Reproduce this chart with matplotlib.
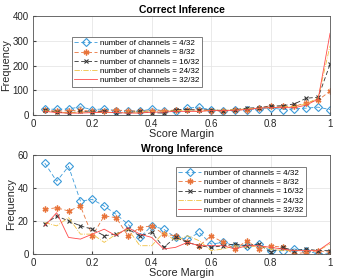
import numpy as np
import matplotlib
matplotlib.use('Agg')
import matplotlib.pyplot as plt

plt.rc('font', family='Liberation Sans')

# score margin bins
margin = [0.04, 0.08, 0.12, 0.16, 0.20, 0.24, 0.28, 0.32, 0.36, 0.40,
          0.44, 0.48, 0.52, 0.56, 0.60, 0.64, 0.68, 0.72, 0.76, 0.80,
          0.84, 0.88, 0.92, 0.96, 1.00]

labels = ['number of channels = 4/32', 'number of channels = 8/32',
          'number of channels = 16/32', 'number of channels = 24/32',
          'number of channels = 32/32']

# correct inference
c4 = [25, 23, 25, 33, 22, 25, 18, 18, 15, 25, 17, 15, 28, 32, 20, 18, 20, 22, 25, 30, 22, 25, 28, 32, 22]
c8 = [22, 15, 18, 20, 15, 18, 20, 18, 15, 18, 18, 20, 22, 20, 18, 15, 20, 22, 28, 38, 35, 35, 50, 60, 97]
c16 = [20, 12, 8, 15, 12, 15, 8, 10, 15, 10, 8, 22, 22, 20, 22, 18, 22, 28, 30, 35, 38, 45, 68, 72, 205]
c24 = [18, 12, 10, 12, 12, 10, 10, 12, 12, 15, 15, 18, 18, 15, 20, 20, 22, 25, 28, 30, 32, 35, 45, 70, 280]
c32 = [15, 10, 8, 8, 10, 12, 10, 8, 8, 12, 12, 15, 15, 15, 18, 18, 20, 22, 28, 30, 30, 30, 40, 65, 330]

# wrong inference
w4 = [55, 44, 53, 32, 33, 29, 24, 18, 10, 17, 15, 10, 9, 13, 6, 7, 5, 5, 6, 2, 2, 3, 2, 0, 0]
w8 = [27, 28, 26, 29, 11, 23, 22, 11, 16, 17, 12, 11, 7, 5, 11, 7, 3, 8, 3, 5, 4, 0, 1, 2, 1]
w16 = [18, 23, 20, 17, 15, 11, 12, 15, 11, 13, 4, 10, 7, 5, 4, 5, 6, 5, 6, 1, 4, 2, 3, 2, 2]
w24 = [19, 17, 22, 12, 12, 7, 12, 15, 5, 5, 13, 8, 11, 8, 2, 3, 5, 4, 5, 3, 2, 2, 2, 2, 6]
w32 = [17, 25, 10, 9, 12, 15, 11, 16, 12, 10, 3, 4, 7, 5, 5, 5, 3, 5, 5, 4, 3, 2, 2, 2, 7]

colors = ['#3a9ad9', '#e8743b', '#333333', '#f0c040', '#ff4a4a']
styles = [dict(ls=(0, (5, 3)), marker='D', mfc='none', ms=3.6, mew=0.8),
          dict(ls=(0, (5, 3)), marker=(6, 2, 0), ms=4.2, mew=1.0),
          dict(ls=(0, (5, 3)), marker='x', ms=3.4, mew=0.8),
          dict(ls='-.', marker=None),
          dict(ls='-', marker=None)]


def draw(ax, series, title, ylim, yticks, anchor):
    for y, lab, col, st in zip(series, labels, colors, styles):
        ax.plot(margin, y, color=col, lw=0.6, label=lab, **st)
    ax.set_xlim(0, 1)
    ax.set_ylim(*ylim)
    ax.set_yticks(yticks)
    ax.set_xticks([0, 0.2, 0.4, 0.6, 0.8, 1])
    ax.set_xticklabels(['0', '0.2', '0.4', '0.6', '0.8', '1'])
    ax.grid(color='#e6e6e6', lw=0.6)
    ax.set_axisbelow(True)
    ax.tick_params(direction='in', labelsize=7, length=2, color='#444444',
                   labelcolor='#262626', pad=3)
    for s in ax.spines.values():
        s.set_color('#555555')
        s.set_linewidth(0.6)
    ax.set_title(title, fontsize=7.5, fontweight='bold', pad=2)
    ax.set_xlabel('Score Margin', fontsize=7.8, labelpad=0, color='#262626')
    ax.set_ylabel('Frequency', fontsize=7.8, labelpad=1, color='#262626')
    leg = ax.legend(loc='upper left', bbox_to_anchor=anchor, fontsize=5.8,
                    fancybox=False, edgecolor='#666666', framealpha=1,
                    handlelength=2.8, handletextpad=0.4, borderpad=0.3,
                    labelspacing=0.2)
    leg.get_frame().set_linewidth(0.6)


fig = plt.figure(figsize=(3.5, 2.8), dpi=100)
ax1 = fig.add_axes([0.094, 0.589, 0.849, 0.354])
ax2 = fig.add_axes([0.094, 0.093, 0.849, 0.354])

draw(ax1, [c4, c8, c16, c24, c32], 'Correct Inference', (0, 400),
     [0, 100, 200, 300, 400], (0.118, 0.828))
draw(ax2, [w4, w8, w16, w24, w32], 'Wrong Inference', (0, 60),
     [0, 20, 40, 60], (0.468, 0.919))

plt.savefig('out.png', dpi=100)
